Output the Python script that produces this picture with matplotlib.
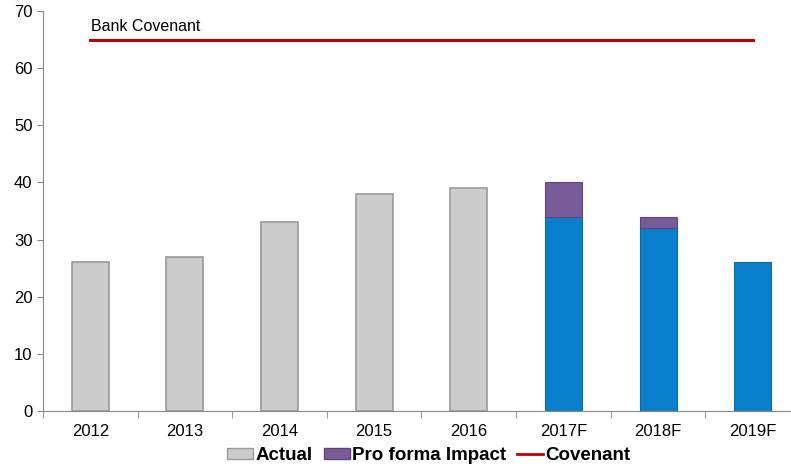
import numpy as np
import matplotlib.pyplot as plt
from matplotlib.patches import Patch
from matplotlib.lines import Line2D

plt.rcParams['font.family'] = ['Liberation Sans', 'DejaVu Sans']

years = ['2012', '2013', '2014', '2015', '2016', '2017F', '2018F', '2019F']
actual = [26, 27, 33, 38, 39, 0, 0, 0]
forecast = [0, 0, 0, 0, 0, 34, 32, 26]
proforma = [0, 0, 0, 0, 0, 6, 2, 0]
covenant = 65

fig = plt.figure(figsize=(7.91, 4.70), dpi=100)
ax = fig.add_axes([43 / 791, 59 / 470, 757 / 791, 400 / 470])

x = np.arange(len(years))
w = 0.39
act = np.array(actual)
fc = np.array(forecast)
pf = np.array(proforma)
m = act > 0
ax.bar(x[m], act[m], w, color='#CCCCCC', edgecolor='#9A9A9A', linewidth=1.2)
m = fc > 0
ax.bar(x[m], fc[m], w, color='#0A80CC', edgecolor='#0A6EAE', linewidth=0.8)
m = pf > 0
ax.bar(x[m], pf[m], w, bottom=fc[m], color='#7A5B99', edgecolor='#5E4478', linewidth=0.8)
ax.plot([x[0], x[-1]], [covenant, covenant], color='#C00000', lw=2.2)
ax.text(x[0] + 0.01, covenant + 1.0, 'Bank Covenant', fontsize=11.5, ha='left', va='bottom')

ax.set_xlim(-0.5, len(years) - 0.5)
ax.set_ylim(0, 70)
ax.set_yticks(range(0, 71, 10))
ax.set_xticks(x)
ax.set_xticklabels(years)
ax.set_xticks(np.arange(-0.5, len(years)), minor=True)
ax.tick_params(axis='x', which='major', length=0, labelsize=12, pad=9)
ax.tick_params(axis='x', which='minor', length=5, color='#888888')
ax.tick_params(axis='y', length=4, color='#888888', labelsize=12)
for s in ['top', 'right']:
    ax.spines[s].set_visible(False)
for s in ['left', 'bottom']:
    ax.spines[s].set_color('#888888')

handles = [Patch(facecolor='#CCCCCC', edgecolor='#9A9A9A'),
           Patch(facecolor='#7A5B99', edgecolor='#5E4478'),
           Line2D([0], [0], color='#C00000', lw=2)]
fig.legend(handles, ['Actual', 'Pro forma Impact', 'Covenant'], loc='center',
           bbox_to_anchor=(0.542, 0.031), ncol=3, frameon=False,
           prop={'weight': 'bold', 'size': 13.5}, handlelength=1.4,
           handleheight=0.5, handletextpad=0.1, columnspacing=0.6)

fig.savefig('out.png', dpi=100)
